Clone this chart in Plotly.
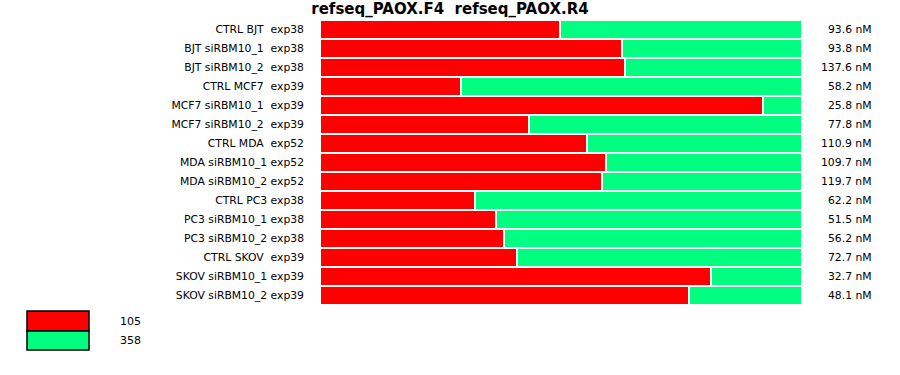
import plotly.graph_objects as go

title_text = "refseq_PAOX.F4  refseq_PAOX.R4"
samples = [
    "CTRL BJT  exp38",
    "BJT siRBM10_1  exp38",
    "BJT siRBM10_2  exp38",
    "CTRL MCF7  exp39",
    "MCF7 siRBM10_1  exp39",
    "MCF7 siRBM10_2  exp39",
    "CTRL MDA  exp52",
    "MDA siRBM10_1 exp52",
    "MDA siRBM10_2 exp52",
    "CTRL PC3 exp38",
    "PC3 siRBM10_1 exp38",
    "PC3 siRBM10_2 exp38",
    "CTRL SKOV  exp39",
    "SKOV siRBM10_1 exp39",
    "SKOV siRBM10_2 exp39",
]
red_pct = [49.8, 62.7, 63.2, 29.2, 91.9, 43.3, 55.4, 59.4, 58.5, 32.1, 36.5, 38.1, 40.8, 81.2, 76.5]
green_pct = [round(100 - v, 1) for v in red_pct]
conc_nM = [93.6, 93.8, 137.6, 58.2, 25.8, 77.8, 110.9, 109.7, 119.7, 62.2, 51.5, 56.2, 72.7, 32.7, 48.1]
series_names = ["105", "358"]
series_colors = ["#ff0000", "#00ff80"]

FONT = "DejaVu Sans, Verdana, sans-serif"
W, H = 900, 375
L, R, T, B = 320, 98, 20, 70
pw, ph = W - L - R, H - T - B

def px_x(p):
    return (p - L) / pw

def px_y(p):
    return (H - B - p) / ph

fig = go.Figure()
for name, vals, col in zip(series_names, [red_pct, green_pct], series_colors):
    fig.add_trace(go.Bar(
        y=samples, x=vals, orientation="h", name=name,
        marker=dict(color=col, line=dict(color="white", width=2)),
        hoverinfo="skip", showlegend=False,
    ))

annotations = []
for s, c in zip(samples, conc_nM):
    annotations.append(dict(
        x=px_x(874), xref="paper", y=s, yref="y", text=f"{c} nM",
        showarrow=False, xanchor="right", yanchor="middle",
        font=dict(family=FONT, size=10.8, color="black"),
    ))

shapes = []
leg_tops = [311, 331]
leg_bots = [331, 350]
for i, (name, col) in enumerate(zip(series_names, series_colors)):
    shapes.append(dict(
        type="rect", xref="paper", yref="paper",
        x0=px_x(27), x1=px_x(89), y0=px_y(leg_bots[i]), y1=px_y(leg_tops[i]),
        fillcolor=col, line=dict(color="black", width=1.5),
    ))
    annotations.append(dict(
        x=px_x(118), xref="paper", y=px_y((leg_tops[i] + leg_bots[i]) / 2), yref="paper",
        text=name, showarrow=False, xanchor="left", yanchor="middle",
        font=dict(family=FONT, size=11, color="black"),
    ))

fig.update_layout(
    width=W, height=H,
    margin=dict(l=L, r=R, t=T, b=B, pad=0),
    barmode="stack", bargap=0,
    paper_bgcolor="white", plot_bgcolor="white",
    title=dict(text=f"<b>{title_text}</b>", x=0.5, xanchor="center",
               y=(H - 9) / H, yanchor="middle", yref="container",
               font=dict(family=FONT, size=15, color="black")),
    xaxis=dict(range=[0, 100], visible=False, fixedrange=True),
    yaxis=dict(categoryorder="array", categoryarray=samples, autorange="reversed",
               showgrid=False, zeroline=False, showline=False, ticks="",
               ticklabelstandoff=15,
               tickfont=dict(family=FONT, size=10.8, color="black")),
    annotations=annotations, shapes=shapes,
    font=dict(family=FONT),
)

fig.write_html("out.html")
